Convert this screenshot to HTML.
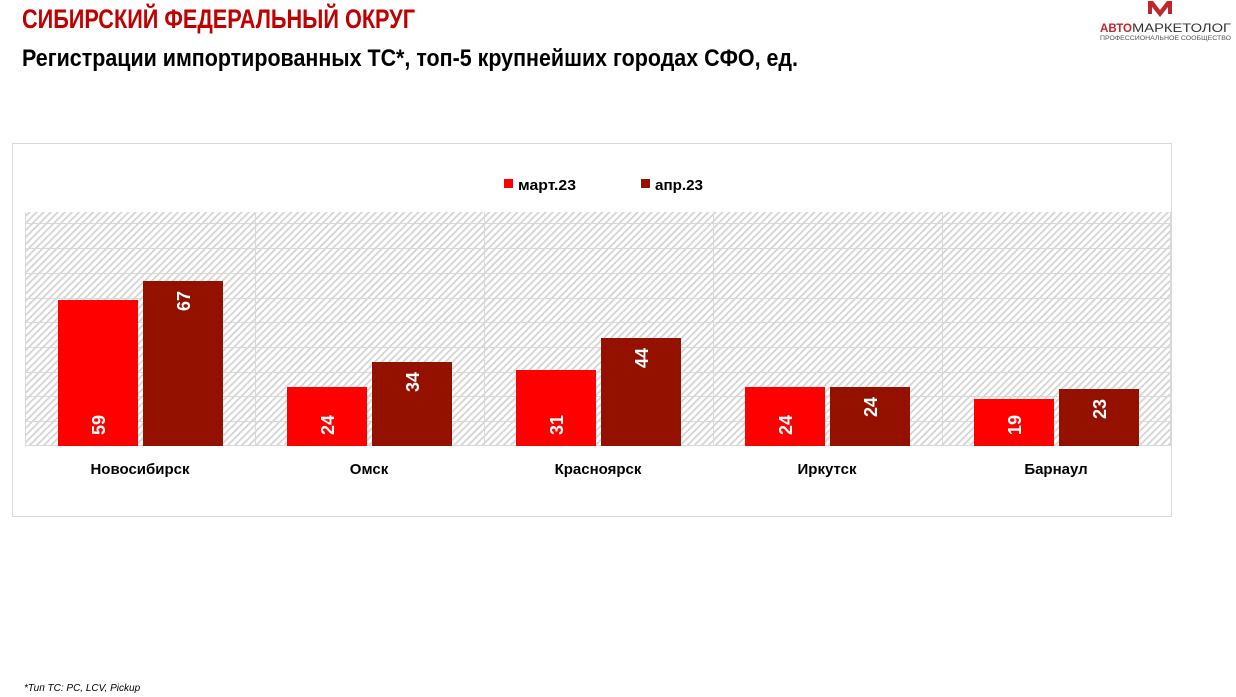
<!DOCTYPE html>
<html><head><meta charset="utf-8"><style>
html,body{margin:0;padding:0;background:#fff;}
svg{display:block;font-family:"Liberation Sans","DejaVu Sans",sans-serif;}
</style></head><body>
<svg width="1236" height="697" viewBox="0 0 1236 697" xmlns="http://www.w3.org/2000/svg">
<defs>
<pattern id="h" width="5" height="5" patternUnits="userSpaceOnUse" patternTransform="rotate(45)">
<rect width="5" height="5" fill="#fff"/>
<rect width="1.8" height="5" fill="#d4d4d4"/>
</pattern>
</defs>
<text x="22" y="28" font-size="27" font-weight="bold" fill="#c00000" textLength="393" lengthAdjust="spacingAndGlyphs">СИБИРСКИЙ ФЕДЕРАЛЬНЫЙ ОКРУГ</text>
<text x="22" y="66" font-size="24" font-weight="bold" fill="#000" textLength="776" lengthAdjust="spacingAndGlyphs">Регистрации импортированных ТС*, топ-5 крупнейших городах СФО, ед.</text>
<!-- logo -->
<path d="M1153 1 L1160 10 L1167 1 L1172 1 L1172 14 L1168 14 L1168 7 L1160 17 L1152 7 L1152 14 L1148 14 L1148 1 Z" fill="#c0272d"/>
<text x="1100" y="32" font-size="12" font-weight="bold" fill="#c0272d" textLength="32" lengthAdjust="spacingAndGlyphs">АВТО</text>
<text x="1132" y="32" font-size="12" fill="#333" textLength="99" lengthAdjust="spacingAndGlyphs">МАРКЕТОЛОГ</text>
<text x="1100" y="40" font-size="6" fill="#555" textLength="131" lengthAdjust="spacingAndGlyphs">ПРОФЕССИОНАЛЬНОЕ СООБЩЕСТВО</text>
<!-- chart frame -->
<rect x="12.5" y="143.5" width="1159" height="373" fill="#fff" stroke="#d9d9d9"/>
<rect x="25" y="212" width="1145" height="234" fill="url(#h)"/>
<g stroke="#d9d9d9" stroke-width="1">
<line x1="25" x2="1170" y1="223.5" y2="223.5"/>
<line x1="25" x2="1170" y1="248.5" y2="248.5"/>
<line x1="25" x2="1170" y1="273.5" y2="273.5"/>
<line x1="25" x2="1170" y1="298.5" y2="298.5"/>
<line x1="25" x2="1170" y1="322.5" y2="322.5"/>
<line x1="25" x2="1170" y1="347.5" y2="347.5"/>
<line x1="25" x2="1170" y1="372.5" y2="372.5"/>
<line x1="25" x2="1170" y1="396.5" y2="396.5"/>
<line x1="25" x2="1170" y1="421.5" y2="421.5"/>
<line x1="25" x2="1170" y1="445.5" y2="445.5"/>
<line x1="25.5" x2="25.5" y1="212" y2="446"/>
<line x1="255.5" x2="255.5" y1="212" y2="446"/>
<line x1="484.5" x2="484.5" y1="212" y2="446"/>
<line x1="713.5" x2="713.5" y1="212" y2="446"/>
<line x1="942.5" x2="942.5" y1="212" y2="446"/>
<line x1="1170.5" x2="1170.5" y1="212" y2="446"/>
</g>
<!-- legend -->
<rect x="504" y="179" width="9" height="9" fill="#ff0000"/>
<text x="518" y="190" font-size="15" font-weight="bold" fill="#000" textLength="58" lengthAdjust="spacingAndGlyphs">март.23</text>
<rect x="641" y="179" width="9" height="9" fill="#941100"/>
<text x="655" y="190" font-size="15" font-weight="bold" fill="#000" textLength="48" lengthAdjust="spacingAndGlyphs">апр.23</text>
<!-- bars -->
<g>
<rect x="58" y="300" width="80" height="146" fill="#ff0000"/>
<rect x="143" y="281" width="80" height="165" fill="#941100"/>
<rect x="287" y="387" width="80" height="59" fill="#ff0000"/>
<rect x="372" y="362" width="80" height="84" fill="#941100"/>
<rect x="516" y="370" width="80" height="76" fill="#ff0000"/>
<rect x="601" y="338" width="80" height="108" fill="#941100"/>
<rect x="745" y="387" width="80" height="59" fill="#ff0000"/>
<rect x="830" y="387" width="80" height="59" fill="#941100"/>
<rect x="974" y="399" width="80" height="47" fill="#ff0000"/>
<rect x="1059" y="389" width="80" height="57" fill="#941100"/>
</g>
<g font-size="18" font-weight="bold" fill="#fff" text-anchor="middle">
<text transform="translate(105,425) rotate(-90)">59</text>
<text transform="translate(190,301) rotate(-90)">67</text>
<text transform="translate(334,425) rotate(-90)">24</text>
<text transform="translate(419,382) rotate(-90)">34</text>
<text transform="translate(563,425) rotate(-90)">31</text>
<text transform="translate(648,358) rotate(-90)">44</text>
<text transform="translate(792,425) rotate(-90)">24</text>
<text transform="translate(877,407) rotate(-90)">24</text>
<text transform="translate(1021,425) rotate(-90)">19</text>
<text transform="translate(1106,409) rotate(-90)">23</text>
</g>
<g font-size="15" font-weight="bold" fill="#000" text-anchor="middle">
<text x="140" y="474">Новосибирск</text>
<text x="369" y="474">Омск</text>
<text x="598" y="474">Красноярск</text>
<text x="827" y="474">Иркутск</text>
<text x="1056" y="474">Барнаул</text>
</g>
<text x="24" y="691" font-size="10" font-style="italic" fill="#000">*Тип ТС: PC, LCV, Pickup</text>
</svg>
</body></html>
